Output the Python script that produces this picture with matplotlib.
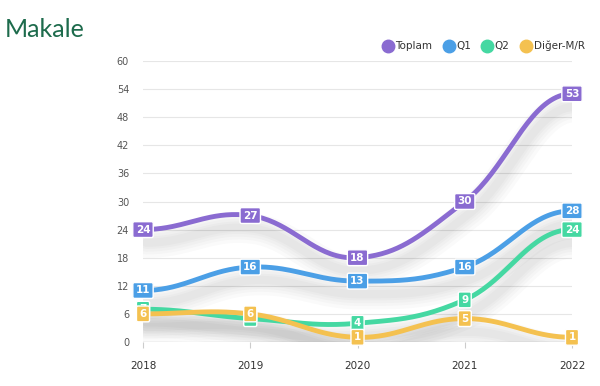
import numpy as np
import matplotlib
matplotlib.use("Agg")
import matplotlib.pyplot as plt
from matplotlib.lines import Line2D

years = [2018, 2019, 2020, 2021, 2022]
toplam = [24, 27, 18, 30, 53]
q1 = [11, 16, 13, 16, 28]
q2 = [7, 5, 4, 9, 24]
diger = [6, 6, 1, 5, 1]
series_names = ["Toplam", "Q1", "Q2", "Diğer-M/R"]
colors = ["#8a6bd1", "#4b9fe6", "#45d8a2", "#f4c150"]
yticks = list(range(0, 61, 6))

def spline(xs, ys, n=40, smooth=1.5):
    # bezier spline rendering through the data points (flat ends)
    xs = np.asarray(xs, float); ys = np.asarray(ys, float)
    px, py = [], []
    for i in range(len(xs) - 1):
        x0, y0, x1, y1 = xs[i], ys[i], xs[i + 1], ys[i + 1]
        if i > 0:
            xp, yp = xs[i - 1], ys[i - 1]
            lx = (smooth * x0 + x1) / (smooth + 1)
            ly = (smooth * y0 + y1) / (smooth + 1)
            rx = (smooth * x0 + xp) / (smooth + 1)
            ry = (smooth * y0 + yp) / (smooth + 1)
            c = (ly - ry) / (lx - rx) if lx != rx else 0
            c1x, c1y = lx, y0 + c * (lx - x0)
        else:
            c1x, c1y = (smooth * x0 + x1) / (smooth + 1), y0
        if i < len(xs) - 2:
            xn, yn = xs[i + 2], ys[i + 2]
            lx = (smooth * x1 + x0) / (smooth + 1)
            rx = (smooth * x1 + xn) / (smooth + 1)
            ly = (smooth * y1 + y0) / (smooth + 1)
            ry = (smooth * y1 + yn) / (smooth + 1)
            c = (ry - ly) / (rx - lx) if rx != lx else 0
            c2x, c2y = lx, y1 + c * (lx - x1)
        else:
            c2x, c2y = (smooth * x1 + x0) / (smooth + 1), y1
        t = np.linspace(0, 1, n)
        bx = (1-t)**3*x0 + 3*(1-t)**2*t*c1x + 3*(1-t)*t**2*c2x + t**3*x1
        by = (1-t)**3*y0 + 3*(1-t)**2*t*c1y + 3*(1-t)*t**2*c2y + t**3*y1
        px.extend(bx); py.extend(by)
    return np.array(px), np.array(py)

fig = plt.figure(figsize=(6, 3.86), dpi=100)
ax = fig.add_axes([143/600, 1-342/386, (572-143)/600, (342-61)/386])

ax.set_xlim(2018, 2022)
ax.set_ylim(0, 60)
ax.set_yticks(yticks)
ax.set_xticks(years)
ax.grid(axis="y", color="#e6e6e6", linewidth=0.8)
ax.set_axisbelow(True)
for s in ax.spines.values():
    s.set_visible(False)
ax.tick_params(axis="y", length=0, labelsize=7, colors="#555555", pad=10)
ax.tick_params(axis="x", length=4, color="#cccccc", labelsize=7.5, colors="#333333", pad=10)
ax.axhline(0, color="#dddddd", linewidth=1, zorder=1)

all_series = [toplam, q1, q2, diger]
# soft shadows
for vals in all_series:
    sx, sy = spline(years, vals)
    for w in [22, 17, 13, 9, 6]:
        ax.plot(sx + 0.03, np.array(sy) - 2.8, color="#000000", alpha=0.018, linewidth=w,
                solid_capstyle="round", zorder=2, clip_on=True)

for vals, col in zip(all_series, colors):
    sx, sy = spline(years, vals)
    ax.plot(sx, sy, color=col, linewidth=3.5, solid_capstyle="round", zorder=3, clip_on=False)

z = 5
for vals, col in zip(all_series, colors):
    for x, y in zip(years, vals):
        ax.text(x, y, str(y), ha="center", va="center", color="white", fontsize=7.5,
                fontweight="bold", zorder=z,
                bbox=dict(boxstyle="round,pad=0.28,rounding_size=0.15", fc=col, ec="white", lw=1.0))
        z += 0.01

fig.text(0.008, 0.905, "Makale", fontsize=18, color="#1d6b4c", family="Lato")

handles = [Line2D([0], [0], marker="o", linestyle="", markersize=9, markerfacecolor=c,
                  markeredgecolor=c) for c in colors]
fig.legend(handles, series_names, loc="center right", bbox_to_anchor=(0.99, 1-46/386),
           ncol=4, frameon=False, fontsize=7.5, handletextpad=0.2, columnspacing=1.1,
           handlelength=1.0, labelcolor="#333333")

fig.savefig("out.png", dpi=100, facecolor="white")
